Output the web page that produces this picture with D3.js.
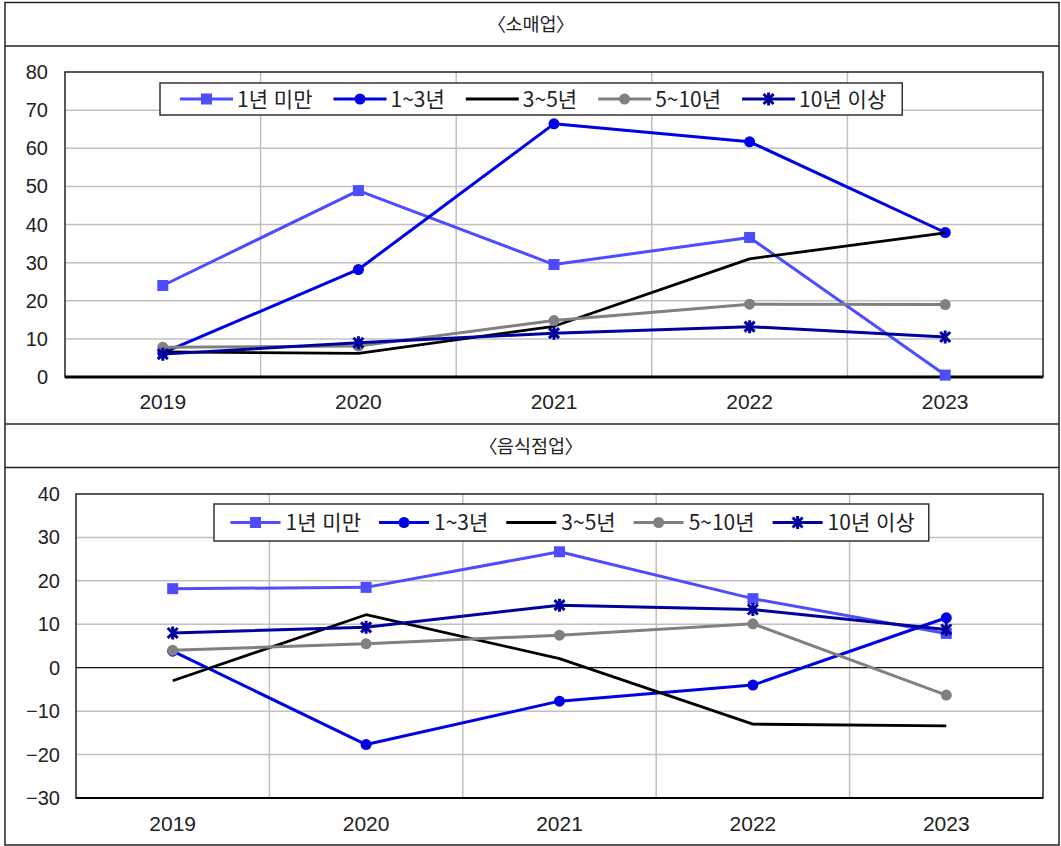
<!DOCTYPE html>
<html lang="ko">
<head>
<meta charset="utf-8">
<script src="https://cdn.jsdelivr.net/npm/d3@7"></script>
<style>
  html, body { margin: 0; padding: 0; background: #fff; }
  svg { display: block; }
  text { font-family: "Liberation Sans", "Noto Sans CJK KR", sans-serif; fill: #222; }
  .ko { font-family: "Noto Sans CJK KR", "Liberation Sans", sans-serif; }
  .title { font-feature-settings: "palt"; }
</style>
</head>
<body>
<script>
// Years on the x axis
const years = ["2019", "2020", "2021", "2022", "2023"];

// Series names (business age bands)
const seriesNames = ["1년 미만", "1~3년", "3~5년", "5~10년", "10년 이상"];

// 소매업 (retail)
const retail_lt1 = [24.0, 48.9, 29.5, 36.6, 0.5];
const retail_1to3 = [6.3, 28.2, 66.4, 61.7, 37.9];
const retail_3to5 = [6.6, 6.2, 13.3, 31.0, 37.8];
const retail_5to10 = [7.8, 8.1, 14.8, 19.1, 19.0];
const retail_10plus = [6.0, 9.0, 11.5, 13.2, 10.5];

// 음식점업 (restaurants)
const food_lt1 = [18.2, 18.5, 26.7, 15.9, 7.9];
const food_1to3 = [3.8, -17.7, -7.7, -4.0, 11.5];
const food_3to5 = [-3.0, 12.2, 2.1, -13.0, -13.4];
const food_5to10 = [4.0, 5.5, 7.5, 10.1, -6.3];
const food_10plus = [8.0, 9.3, 14.4, 13.4, 8.8];

// Tick values for each panel
const retailTicks = [0, 10, 20, 30, 40, 50, 60, 70, 80];
const foodTicks = [-30, -20, -10, 0, 10, 20, 30, 40];

// Panel titles
const retailTitle = "〈소매업〉";
const foodTitle = "〈음식점업〉";

// Visual style for each series, in legend order
const styles = [
  { color: "#4d4dff", marker: "square", width: 3 },
  { color: "#0000e6", marker: "circle", width: 3 },
  { color: "#000000", marker: "none", width: 2.8 },
  { color: "#808080", marker: "circle", width: 3 },
  { color: "#00009c", marker: "star", width: 3 }
];

const W = 1061, H = 846;
const svg = d3.select("body").append("svg").attr("width", W).attr("height", H);

// Outer table frame with panel title rows
const frame = svg.append("g").attr("fill", "none").attr("stroke", "#222").attr("stroke-width", 1.5);
frame.append("rect").attr("x", 5).attr("y", 2.5).attr("width", 1054).attr("height", 842.5);
[46, 424, 467.5].forEach(y => frame.append("line").attr("x1", 5).attr("x2", 1059).attr("y1", y).attr("y2", y));

svg.append("text").attr("class", "ko title").attr("x", 531).attr("y", 31)
  .attr("text-anchor", "middle").attr("font-size", 18.5).text(retailTitle);
svg.append("text").attr("class", "ko title").attr("x", 531).attr("y", 453)
  .attr("text-anchor", "middle").attr("font-size", 18.5).text(foodTitle);

function drawMarker(g, type, color, x, y) {
  if (type === "square") {
    g.append("rect").attr("x", x - 5.5).attr("y", y - 5.5).attr("width", 11).attr("height", 11).attr("fill", color);
  } else if (type === "circle") {
    g.append("circle").attr("cx", x).attr("cy", y).attr("r", 5.5).attr("fill", color);
  } else if (type === "star") {
    g.append("path").attr("transform", `translate(${x},${y})`)
      .attr("d", "M-5,-5L5,5M-5,5L5,-5M0,-6.5L0,6.5")
      .attr("stroke", color).attr("stroke-width", 3).attr("fill", "none");
  }
}

function drawPanel(opt) {
  const { data, ticks, domain, left, right, top, bottom, labelRight, xLabelY, legend, zeroLine, bottomAxisWidth } = opt;
  const g = svg.append("g");
  const x = d3.scaleBand().domain(years).range([left, right]).padding(0);
  const y = d3.scaleLinear().domain(domain).range([bottom, top]);

  // Horizontal gridlines
  g.append("g").selectAll("line").data(ticks.filter(t => t !== domain[0] && t !== domain[1] && t !== 0))
    .join("line")
    .attr("x1", left).attr("x2", right)
    .attr("y1", d => y(d)).attr("y2", d => y(d))
    .attr("stroke", "#c0c0c0").attr("stroke-width", 1.5);

  // Vertical gridlines between categories
  g.append("g").selectAll("line").data(years.slice(1))
    .join("line")
    .attr("x1", d => x(d)).attr("x2", d => x(d))
    .attr("y1", top).attr("y2", bottom)
    .attr("stroke", "#c0c0c0").attr("stroke-width", 1.5);

  // Plot area border
  g.append("rect").attr("x", left).attr("y", top).attr("width", right - left).attr("height", bottom - top)
    .attr("fill", "none").attr("stroke", "#222").attr("stroke-width", 1.5);

  if (zeroLine) {
    g.append("line").attr("x1", left).attr("x2", right).attr("y1", y(0)).attr("y2", y(0))
      .attr("stroke", "#111").attr("stroke-width", 1.3);
  }
  // Category axis line
  g.append("line").attr("x1", left).attr("x2", right).attr("y1", bottom).attr("y2", bottom)
    .attr("stroke", "#000").attr("stroke-width", bottomAxisWidth);

  // Y tick labels
  const fmt = y.tickFormat();
  g.append("g").selectAll("text").data(ticks).join("text")
    .attr("x", labelRight).attr("y", d => y(d) + 7)
    .attr("text-anchor", "end").attr("font-size", 20)
    .text(d => fmt(d));

  // X tick labels
  g.append("g").selectAll("text").data(years).join("text")
    .attr("x", d => x(d) + x.bandwidth() / 2).attr("y", xLabelY)
    .attr("text-anchor", "middle").attr("font-size", 21)
    .text(d => d);

  // Series lines and markers
  const line = d3.line().x((d, i) => x(years[i]) + x.bandwidth() / 2).y(d => y(d));
  data.forEach((vals, si) => {
    const st = styles[si];
    const sg = g.append("g");
    sg.append("path").attr("d", line(vals)).attr("fill", "none")
      .attr("stroke", st.color).attr("stroke-width", st.width).attr("stroke-linejoin", "round");
    vals.forEach((v, i) => drawMarker(sg, st.marker, st.color, x(years[i]) + x.bandwidth() / 2, y(v)));
  });

  // Legend
  const lg = g.append("g");
  const box = lg.append("rect").attr("fill", "#fff").attr("stroke", "#333").attr("stroke-width", 1.5);
  let cx = legend.left + legend.padLeft;
  const cy = legend.top + legend.height / 2;
  seriesNames.forEach((name, si) => {
    const st = styles[si];
    lg.append("line").attr("x1", cx).attr("x2", cx + legend.lineLen).attr("y1", cy).attr("y2", cy)
      .attr("stroke", st.color).attr("stroke-width", st.width);
    drawMarker(lg, st.marker, st.color, cx + legend.lineLen / 2, cy);
    const t = lg.append("text").attr("class", "ko").attr("x", cx + legend.lineLen + legend.textGap).attr("y", cy + 7.5)
      .attr("font-size", 21).text(name);
    const tw = t.node().getComputedTextLength();
    cx = cx + legend.lineLen + legend.textGap + tw + (si < seriesNames.length - 1 ? legend.itemGap : legend.padRight);
  });
  box.attr("x", legend.left).attr("y", legend.top).attr("width", cx - legend.left).attr("height", legend.height);
}

drawPanel({
  data: [retail_lt1, retail_1to3, retail_3to5, retail_5to10, retail_10plus],
  ticks: retailTicks, domain: [0, 80],
  left: 65, right: 1043, top: 72, bottom: 377,
  labelRight: 48, xLabelY: 409, zeroLine: false, bottomAxisWidth: 3,
  legend: { left: 160, top: 83, height: 32, padLeft: 20, lineLen: 53, textGap: 4, itemGap: 21, padRight: 16 }
});

drawPanel({
  data: [food_lt1, food_1to3, food_3to5, food_5to10, food_10plus],
  ticks: foodTicks, domain: [-30, 40],
  left: 76, right: 1043, top: 494, bottom: 798,
  labelRight: 60, xLabelY: 831, zeroLine: true, bottomAxisWidth: 2,
  legend: { left: 214, top: 504, height: 37, padLeft: 16.5, lineLen: 50, textGap: 5, itemGap: 18, padRight: 14 }
});
</script>
</body>
</html>
